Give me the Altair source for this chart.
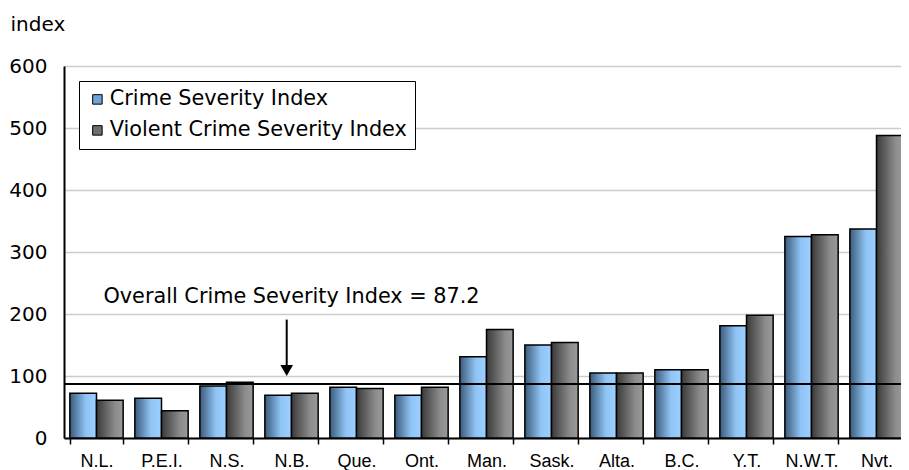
import altair as alt
import pandas as pd

categories = ["N.L.", "P.E.I.", "N.S.", "N.B.", "Que.", "Ont.", "Man.", "Sask.",
              "Alta.", "B.C.", "Y.T.", "N.W.T.", "Nvt."]
crime_severity = [72, 64, 84, 69, 82, 69, 131, 150, 105, 110, 181, 325, 337]
violent_severity = [61, 44, 90, 72, 80, 82, 175, 154, 105, 110, 198, 328, 488]
series_names = ["Crime Severity Index", "Violent Crime Severity Index"]
overall_csi = 87.2
y_ticks = [0, 100, 200, 300, 400, 500, 600]

rows = []
for c, a, b in zip(categories, crime_severity, violent_severity):
    rows.append({"cat": c, "series": series_names[0], "value": a})
    rows.append({"cat": c, "series": series_names[1], "value": b})
df = pd.DataFrame(rows)

FONT = "DejaVu Sans"
FS = 20
TFS = 20.8

blue_grad = alt.LinearGradient(
    gradient="linear", x1=0, y1=0, x2=1, y2=0,
    stops=[alt.GradientStop(offset=0, color="#3c5a7a"),
           alt.GradientStop(offset=0.6, color="#8fc4f5"),
           alt.GradientStop(offset=1, color="#9cd0ff")])
gray_grad = alt.LinearGradient(
    gradient="linear", x1=0, y1=0, x2=1, y2=0,
    stops=[alt.GradientStop(offset=0, color="#3a3a3a"),
           alt.GradientStop(offset=0.7, color="#8c8c8c"),
           alt.GradientStop(offset=1, color="#9a9a9a")])

x_enc = alt.X("cat:N", sort=categories,
              scale=alt.Scale(domain=categories, paddingInner=0.18, paddingOuter=0.09),
              axis=alt.Axis(title=None, labelAngle=0, tickBand="extent", tickSize=6,
                            tickColor="black", tickWidth=1.5, domainColor="black",
                            domainWidth=2, labelFont="Liberation Sans", labelFontSize=18,
                            labelColor="black", labelPadding=8, grid=False))
y_enc = alt.Y("value:Q", scale=alt.Scale(domain=[0, 600], nice=False),
              axis=alt.Axis(values=y_ticks, title="index", titleAngle=0, titleAlign="left",
                            titleBaseline="middle", titleX=-54, titleY=-42,
                            titleFont=FONT, titleFontSize=FS, titleFontWeight="normal",
                            titleColor="black", labelFont=FONT, labelFontSize=FS,
                            labelColor="black", labelPadding=17, ticks=False,
                            domainColor="black", domainWidth=2, gridColor="#cccccc",
                            gridWidth=1.5))
xoff = alt.XOffset("series:N", scale=alt.Scale(domain=series_names, paddingInner=0, paddingOuter=0))

base = alt.Chart(df)
bars_a = base.transform_filter(alt.datum.series == series_names[0]).mark_bar(
    color=blue_grad, stroke="black", strokeWidth=1.5).encode(x=x_enc, y=y_enc, xOffset=xoff)
bars_b = base.transform_filter(alt.datum.series == series_names[1]).mark_bar(
    color=gray_grad, stroke="black", strokeWidth=1.5).encode(x=x_enc, y=y_enc, xOffset=xoff)

# hidden layer (clipped) that only provides the legend
legend_df = pd.DataFrame({"series": series_names, "value": [-100, -100]})
legend_layer = alt.Chart(legend_df).mark_square(size=90, filled=True, opacity=1, clip=True,
                                                 stroke="black", strokeWidth=1).encode(
    y=alt.Y("value:Q"),
    color=alt.Color("series:N", scale=alt.Scale(domain=series_names, range=["#6fa3d6", "#6e6e6e"]),
                    legend=alt.Legend(title=None, orient="none", legendX=15, legendY=15,
                                      strokeColor="black", fillColor="white", padding=8,
                                      labelFont=FONT, labelFontSize=TFS, labelColor="black",
                                      labelLimit=0,
                                      symbolType="square", symbolSize=90,
                                      symbolStrokeColor="black", symbolStrokeWidth=1,
                                      labelOffset=2, rowPadding=9, symbolOffset=0)))

overall_df = pd.DataFrame({"value": [overall_csi]})
overall_rule = alt.Chart(overall_df).mark_rule(color="black", strokeWidth=2).encode(y="value:Q")

ann_df = pd.DataFrame({"cat": ["N.B."], "value": [228],
                       "label": [f"Overall Crime Severity Index = {overall_csi}"]})
ann_text = alt.Chart(ann_df).mark_text(font=FONT, fontSize=TFS, color="black",
                                        baseline="middle", align="center").encode(
    x=alt.X("cat:N"), y="value:Q", text="label:N")

arrow_df = pd.DataFrame({"cat": ["N.B."], "top": [191], "bottom": [116], "head": [109]})
arrow_line = alt.Chart(arrow_df).mark_rule(color="black", strokeWidth=2).encode(
    x=alt.X("cat:N", bandPosition=0.41), y="top:Q", y2="bottom:Q")
arrow_head = alt.Chart(arrow_df).mark_point(shape="triangle-down", filled=True, size=160,
                                            color="black", opacity=1).encode(
    x=alt.X("cat:N", bandPosition=0.41), y=alt.Y("head:Q"))

chart = alt.layer(bars_a, bars_b, legend_layer, overall_rule, ann_text, arrow_line, arrow_head).properties(
    width=845, height=372,
    autosize=alt.AutoSizeParams(type="none"),
    padding={"left": 56, "top": 58, "right": -8, "bottom": 32},
).configure_view(stroke="black", strokeWidth=2).configure(background="white")

chart.save("out.html", embed_options={"renderer": "svg", "actions": False})
